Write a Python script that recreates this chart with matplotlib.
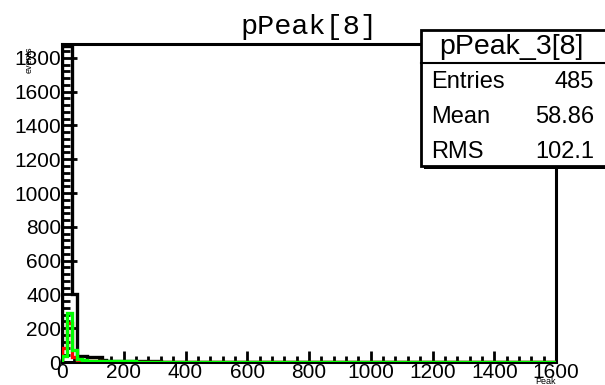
import matplotlib
matplotlib.use("Agg")
import matplotlib.pyplot as plt
from matplotlib.patches import Rectangle

# bin edges: 16-unit bins at low peak, coarse bins for the flat tail
edges = [0, 16, 32, 48, 64, 80, 96, 112, 128, 144, 160, 240, 320, 800, 1600]

# pPeak[8] (black)
counts_all = [1870, 1870, 400, 35, 35, 30, 30, 30, 12, 8, 5, 3, 2, 2]
# pPeak_3[8] (green) and the second selection (red)
counts_green = [35, 290, 70, 20, 10, 8, 6, 5, 4, 4, 3, 2, 2, 2]
counts_red = [80, 230, 30, 8, 5, 4, 3, 3, 2, 2, 2, 1, 1, 1]

stats_title = "pPeak_3[8]"
stats_rows = [("Entries", "485"), ("Mean", "58.86"), ("RMS", "102.1")]

SANS = ["Liberation Sans", "DejaVu Sans"]

W, H = 605, 385
fig = plt.figure(figsize=(W / 100, H / 100), dpi=100)
ax = fig.add_axes([62 / W, 1 - 362 / H, (556 - 62) / W, (362 - 44) / H])

ax.stairs(counts_all, edges, color="black", lw=2.4, zorder=2)
ax.stairs(counts_red, edges, color="#ff0000", lw=2.4, zorder=3)
ax.stairs(counts_green, edges, color="#00ff00", lw=2.4, zorder=4)

ax.set_xlim(0, 1600)
ax.set_ylim(0, 1882)
ax.set_xticks(range(0, 1601, 200))
ax.set_xticks(range(0, 1601, 40), minor=True)
ax.set_yticks(range(0, 1801, 200))
ax.set_yticks(range(0, 1881, 40), minor=True)

for s in ax.spines.values():
    s.set_linewidth(2.2)
ax.tick_params(which="both", direction="in", top=False, right=False,
               width=2.0, labelsize=15, pad=0.5)
ax.tick_params(axis="y", which="major", length=11)
ax.tick_params(axis="y", which="minor", length=6)
ax.tick_params(axis="x", which="major", length=8)
ax.tick_params(axis="x", which="minor", length=4)
for lab in ax.get_xticklabels() + ax.get_yticklabels():
    lab.set_family(SANS)

fig.text(309 / W, 1 - 27 / H, "pPeak[8]", family="Liberation Mono",
         fontsize=20.5, ha="center", va="center")
fig.text(29 / W, 1 - 60 / H, "events", fontsize=6.5, rotation=90,
         ha="center", va="center", family=SANS)
fig.text(545 / W, 1 - 381 / H, "Peak", fontsize=6.5,
         ha="center", va="center", family=SANS)

# stats box with drop shadow
x0, y0, x1, y1 = 421, 30, 612, 166
fig.patches.append(Rectangle(((x0 + 3) / W, 1 - (y1 + 3) / H), (x1 - x0) / W, (y1 - y0) / H,
                             transform=fig.transFigure, facecolor="black",
                             edgecolor="none", zorder=5))
fig.patches.append(Rectangle((x0 / W, 1 - y1 / H), (x1 - x0) / W, (y1 - y0) / H,
                             transform=fig.transFigure, facecolor="white",
                             edgecolor="black", lw=2.0, zorder=6))
fig.lines.append(plt.Line2D([x0 / W, 1], [1 - 63 / H, 1 - 63 / H],
                            transform=fig.transFigure, color="black", lw=1.5, zorder=7))
fig.text(511 / W, 1 - 47 / H, stats_title, fontsize=20.5, ha="center",
         va="center", family=SANS, zorder=8)
for i, (name, val) in enumerate(stats_rows):
    yy = 1 - (82 + 35 * i) / H
    fig.text(431 / W, yy, name, fontsize=17, ha="left", va="center",
             family=SANS, zorder=8)
    fig.text(594 / W, yy, val, fontsize=17, ha="right", va="center",
             family=SANS, zorder=8)

fig.savefig("out.png", dpi=100)
